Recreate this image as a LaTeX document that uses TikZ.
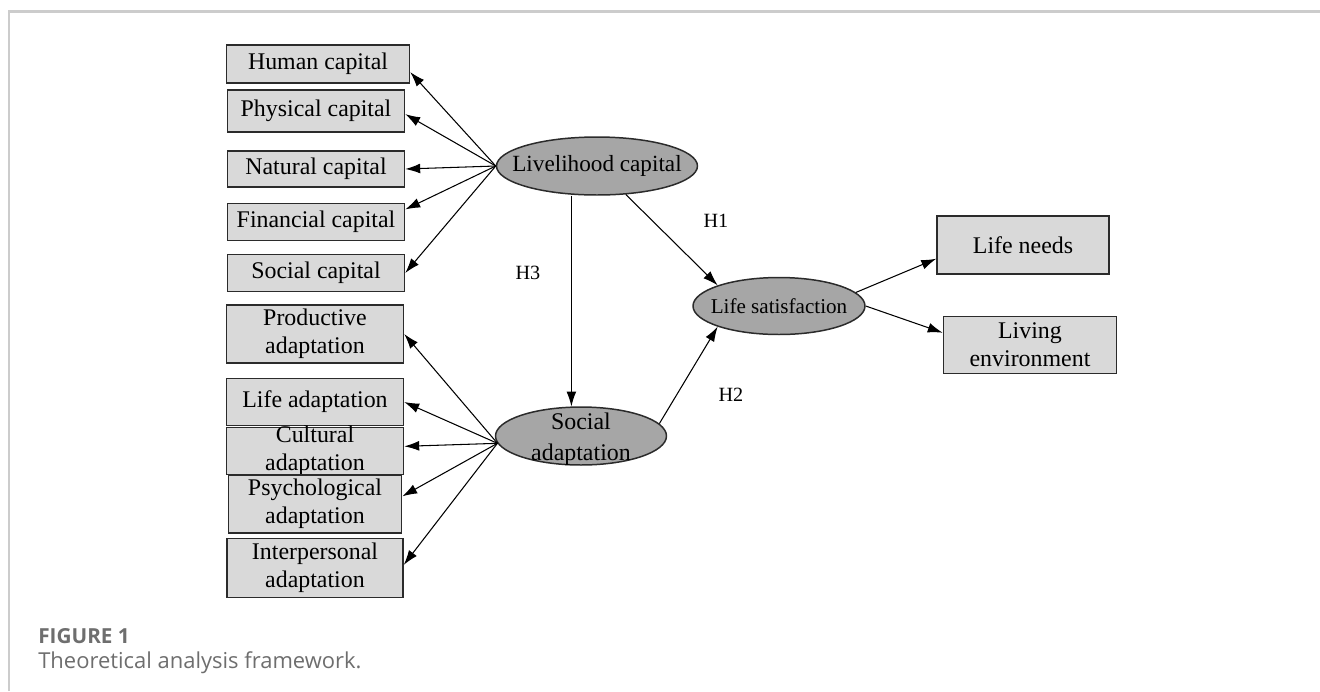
\documentclass[tikz,border=0pt]{standalone}
\usepackage{fontspec}
\setmainfont{Liberation Serif}
\newfontfamily\capfont{Open Sans}
\usepackage{tikz}
\usetikzlibrary{arrows.meta,shapes.geometric,calc}
\definecolor{boxgray}{HTML}{D9D9D9}
\definecolor{ovalgray}{HTML}{A6A6A6}
\definecolor{edgegray}{HTML}{2B2B2B}
\definecolor{framegray}{HTML}{CCCCCC}
\definecolor{captiongray}{HTML}{6E6E6E}
\tikzset{
    >={Latex[length=8.5pt,width=5.6pt]},
    indbox/.style={
        rectangle,
        draw=edgegray,
        line width=0.85pt,
        fill=boxgray,
        inner sep=1pt,
        align=center,
        font={\fontsize{13.6pt}{15.9pt}\selectfont}
    },
    latent/.style={
        ellipse,
        draw=edgegray,
        line width=0.85pt,
        fill=ovalgray,
        inner sep=0pt
    },
    lattext/.style={align=center, inner sep=0pt},
    link/.style={->, line width=0.6pt},
    hyp/.style={font={\fontsize{11.5pt}{13pt}\selectfont}},
}

\begin{document}
\begin{tikzpicture}[x=0.02cm,y=-0.02cm]
\useasboundingbox (0,0) rectangle (1320,691);
\draw[framegray, line width=1.3pt] (9,691) -- (9,11.5) -- (1320,11.5);

% livelihood capital indicators
\node[indbox, minimum width=3.66cm, minimum height=0.76cm] (hum) at (318,64) {Human capital};
\node[indbox, minimum width=3.54cm, minimum height=0.84cm] (phy) at (316,111) {Physical capital};
\node[indbox, minimum width=3.54cm, minimum height=0.72cm] (nat) at (316,169) {Natural capital};
\node[indbox, minimum width=3.54cm, minimum height=0.74cm] (fin) at (316,222) {Financial capital};
\node[indbox, minimum width=3.54cm, minimum height=0.74cm] (soc) at (316,273) {Social capital};

% social adaptation indicators
\node[indbox, minimum width=3.54cm, minimum height=1.16cm] (pro) at (315,334) {Productive\\adaptation};
\node[indbox, minimum width=3.54cm, minimum height=0.94cm] (lif) at (315,402) {Life adaptation};
\node[indbox, minimum width=3.54cm, minimum height=0.94cm,
      label={[lattext, font={\fontsize{13.6pt}{15.9pt}\selectfont}]center:Cultural\\adaptation}] (cul) at (315,451) {};
\node[indbox, minimum width=3.46cm, minimum height=1.16cm] (psy) at (315,504) {Psychological\\adaptation};
\node[indbox, minimum width=3.52cm, minimum height=1.18cm] (ipa) at (315,568) {Interpersonal\\adaptation};

% latent variables
\node[latent, minimum width=4.02cm, minimum height=1.16cm,
      label={[lattext, font={\fontsize{13.2pt}{15pt}\selectfont}]center:Livelihood capital}] (liv) at (597,166) {};
\node[latent, minimum width=3.42cm, minimum height=1.16cm,
      label={[lattext, font={\fontsize{13.6pt}{17.5pt}\selectfont}, yshift=-0.06cm]center:Social\\adaptation}] (sad) at (581,436) {};
\node[latent, minimum width=3.44cm, minimum height=1.14cm,
      label={[lattext, font={\fontsize{12pt}{14pt}\selectfont}]center:Life satisfaction}] (lsa) at (779,306) {};

% life satisfaction indicators
\node[indbox, minimum width=3.44cm, minimum height=1.16cm] (lne) at (1023,245) {Life needs};
\node[indbox, minimum width=3.46cm, minimum height=1.14cm] (lev) at (1030,345) {Living\\environment};

\draw[link] (liv.west) -- (hum.-5);
\draw[link] (liv.west) -- (phy.-2);
\draw[link] (liv.west) -- (nat.east);
\draw[link] (liv.west) -- (fin.8);
\draw[link] (liv.west) -- (soc.east);

\draw[link] (sad.185) -- (pro.east);
\draw[link] (sad.185) -- (lif.east);
\draw[link] (sad.185) -- (cul.3);
\draw[link] (sad.185) -- (psy.5);
\draw[link] (sad.185) -- (ipa.2);

\draw[link] (sad.108 |- liv.south) -- (sad.108);
\draw[link] (liv) -- (lsa.north west);
\draw[link] (sad.9) -- (lsa.south west);
\draw[link] (lsa.10) -- (lne.189);
\draw[link] (lsa.east) -- (lev.172);

\node[hyp] (h1) at (716,221) {H1};
\node[hyp] (h2) at (731,395) {H2};
\node[hyp] (h3) at (528,273) {H3};

% caption
\node[anchor=base west, inner sep=0pt, text=captiongray,
      font={\capfont\bfseries\fontsize{11.8pt}{14pt}\selectfont}] (fig) at (38,643) {FIGURE 1};
\node[anchor=base west, inner sep=0pt, text=captiongray,
      font={\capfont\fontsize{12.5pt}{15pt}\selectfont}] (cap) at (38,668) {Theoretical analysis framework.};
\end{tikzpicture}
\end{document}
